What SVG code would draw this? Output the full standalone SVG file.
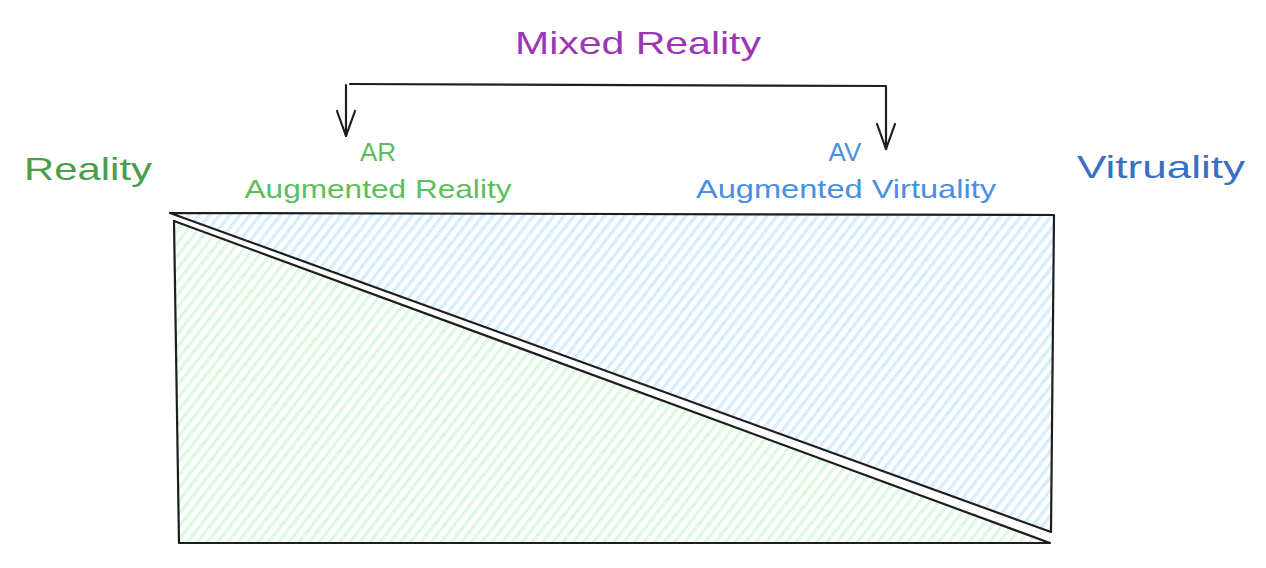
<svg xmlns="http://www.w3.org/2000/svg" width="1266" height="568" viewBox="0 0 1266 568">
<style>
.edge{fill:none;stroke:#1e1e1e;stroke-width:2.2;stroke-linecap:round;stroke-linejoin:round}
.t{font-family:"Liberation Sans","DejaVu Sans",sans-serif;text-anchor:middle}
</style>
<defs>
<pattern id="hb" width="8" height="8" patternUnits="userSpaceOnUse" patternTransform="rotate(38)">
<line x1="0" y1="0" x2="0" y2="8" stroke="#a5d8ff" stroke-width="1.4"/>
<line x1="2.2" y1="0" x2="2.2" y2="8" stroke="#a5d8ff" stroke-width="0.8"/>
</pattern>
<pattern id="hg" width="8" height="8" patternUnits="userSpaceOnUse" patternTransform="rotate(38)">
<line x1="0" y1="0" x2="0" y2="8" stroke="#b2f2bb" stroke-width="1.4"/>
<line x1="2.2" y1="0" x2="2.2" y2="8" stroke="#b2f2bb" stroke-width="0.8"/>
</pattern>
<marker id="ah" markerWidth="30" markerHeight="22" refX="27" refY="11" orient="auto" markerUnits="userSpaceOnUse" viewBox="0 0 30 22">
<path d="M2 2 L27 11 L2 20" fill="none" stroke="#1e1e1e" stroke-width="2.2" stroke-linecap="round" stroke-linejoin="round"/>
</marker>
</defs>
<g id="virtual-triangle">
<path d="M170 213 L1054 215 L1051 532 Z" fill="url(#hb)" stroke="none"/>
<path class="edge" d="M170 213 L1054 215 L1051 532 L170 213"/>
</g>
<g id="reality-triangle">
<path d="M174 221 L179 543 L1050 543 Z" fill="url(#hg)" stroke="none"/>
<path class="edge" d="M174 221 L179 543 L1050 543 L174 221"/>
</g>
<g id="connectors">
<path class="edge" d="M350 84 L886 86"/>
<path class="edge" d="M346 85 L346 136" marker-end="url(#ah)"/>
<path class="edge" d="M886 87 L886 149" marker-end="url(#ah)"/>
</g>
<g id="mixed-reality"><text class="t" x="638" y="54" font-size="32" fill="#9c36b5" textLength="246" lengthAdjust="spacingAndGlyphs">Mixed Reality</text></g>
<g id="reality"><text class="t" x="88" y="180" font-size="32" fill="#4a9e4a" textLength="128" lengthAdjust="spacingAndGlyphs">Reality</text></g>
<g id="ar"><text class="t" x="378" y="161" font-size="26" fill="#5cbf5c">AR</text>
<text class="t" x="378" y="198" font-size="26" fill="#5cbf5c" textLength="267" lengthAdjust="spacingAndGlyphs">Augmented Reality</text></g>
<g id="av"><text class="t" x="845" y="161" font-size="26" fill="#4a8fe0">AV</text>
<text class="t" x="846" y="198" font-size="26" fill="#4a8fe0" textLength="300" lengthAdjust="spacingAndGlyphs">Augmented Virtuality</text></g>
<g id="virtuality"><text class="t" x="1161" y="178" font-size="32" fill="#3a70c0" textLength="168" lengthAdjust="spacingAndGlyphs">Vitruality</text></g>
</svg>
